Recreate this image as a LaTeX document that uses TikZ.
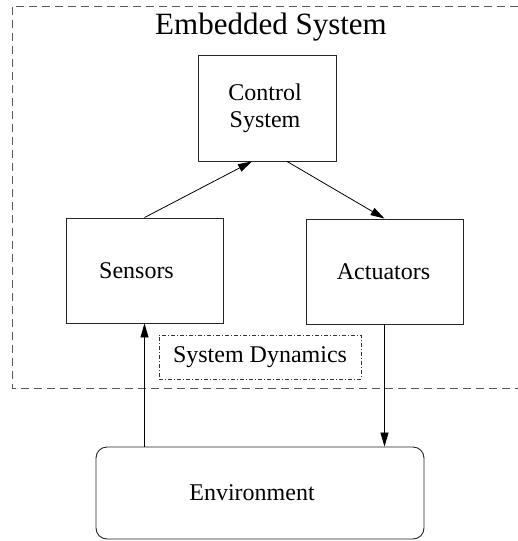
\documentclass[tikz,border=0pt]{standalone}
\usepackage{fontspec}
\setmainfont{Liberation Serif}
\usetikzlibrary{arrows.meta}
\begin{document}
\begin{tikzpicture}[x=1pt,y=-1pt,
  every node/.style={font=\fontsize{24}{27}\selectfont},
  blockbox/.style={draw=black!85,line width=0.9pt,rectangle,inner sep=0pt,align=center},
  arr/.style={draw=black,line width=0.8pt,-{Triangle[length=14pt,width=8pt]}},
  frame/.style={draw=black!65,line width=0.9pt,dash pattern=on 8pt off 5pt}]
  \useasboundingbox (0,0) rectangle (518,541);

  % outer frame of the embedded system (open on the right)
  \draw[frame] (518,6) -- (12,6) -- (12,388) -- (518,388);
  \node[font=\fontsize{31}{36}\selectfont] (title) at (271,27) {Embedded System};

  % blocks
  \node[blockbox,minimum width=138pt,minimum height=106pt,
        label={[xshift=-2pt,align=center]center:Control\\System}] (ctrl) at (267,108) {};
  \node[blockbox,minimum width=157pt,minimum height=105pt,
        label={[xshift=-8pt]center:Sensors}] (sens) at (144.5,270.5) {};
  \node[blockbox,minimum width=157pt,minimum height=105pt,
        label={[xshift=-1pt]center:Actuators}] (act) at (384.5,271.5) {};
  \node[draw=black!80,line width=0.7pt,dash pattern=on 4pt off 2pt on 1pt off 2pt,
        minimum width=202pt,minimum height=44pt,inner sep=0pt] (dyn) at (260,357) {System Dynamics};
  \node[blockbox,rounded corners=11pt,minimum width=328pt,minimum height=92pt,
        label={[xshift=-8pt]center:Environment}] (env) at (260,493) {};

  % connectors
  \draw[arr] (sens.north) -- ([xshift=-15pt]ctrl.south);
  \draw[arr] ([xshift=20pt]ctrl.south) -- (act.north);
  \draw[arr] (env.north -| sens.south) -- (sens.south);
  \draw[arr] (act.south) -- (act.south |- env.north);
\end{tikzpicture}
\end{document}
